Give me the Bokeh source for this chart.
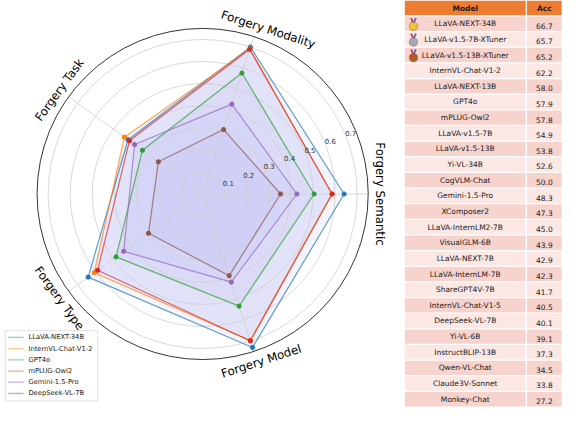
import numpy as np
from bokeh.plotting import figure
from bokeh.models import Range1d
from bokeh.core.properties import value
from bokeh.embed import file_html
from bokeh.resources import INLINE

# ---------------- data ----------------
categories = ["Forgery Semantic", "Forgery Modality", "Forgery Task", "Forgery Type", "Forgery Model"]
series_names = ["LLaVA-NEXT-34B", "InternVL-Chat-V1-2", "GPT4o", "mPLUG-Owl2", "Gemini-1.5-Pro", "DeepSeek-VL-7B"]
llava_next_34b = [0.641, 0.700, 0.418, 0.641, 0.731]
internvl_chat_v12 = [0.585, 0.692, 0.438, 0.607, 0.697]
gpt4o = [0.505, 0.576, 0.337, 0.485, 0.534]
mplug_owl2 = [0.587, 0.689, 0.410, 0.588, 0.700]
gemini_15_pro = [0.427, 0.428, 0.381, 0.442, 0.420]
deepseek_vl_7b = [0.353, 0.307, 0.248, 0.303, 0.389]
series_values = [llava_next_34b, internvl_chat_v12, gpt4o, mplug_owl2, gemini_15_pro, deepseek_vl_7b]
radial_ticks = [0.1, 0.2, 0.3, 0.4, 0.5, 0.6, 0.7]
radial_max = 0.75

table_models = ["LLaVA-NEXT-34B", "LLaVA-v1.5-7B-XTuner", "LLaVA-v1.5-13B-XTuner", "InternVL-Chat-V1-2",
                "LLaVA-NEXT-13B", "GPT4o", "mPLUG-Owl2", "LLaVA-v1.5-7B", "LLaVA-v1.5-13B", "Yi-VL-34B",
                "CogVLM-Chat", "Gemini-1.5-Pro", "XComposer2", "LLaVA-InternLM2-7B", "VisualGLM-6B",
                "LLaVA-NEXT-7B", "LLaVA-InternLM-7B", "ShareGPT4V-7B", "InternVL-Chat-V1-5", "DeepSeek-VL-7B",
                "Yi-VL-6B", "InstructBLIP-13B", "Qwen-VL-Chat", "Claude3V-Sonnet", "Monkey-Chat"]
table_acc = [66.7, 65.7, 65.2, 62.2, 58.0, 57.9, 57.8, 54.9, 53.8, 52.6, 50.0, 48.3, 47.3, 45.0, 43.9,
             42.9, 42.3, 41.7, 40.5, 40.1, 39.1, 37.3, 34.5, 33.8, 27.2]
table_headers = ["Model", "Acc"]

# ---------------- style / layout ----------------
W, H = 566, 412
S = H / 428.0            # px per reference px
FONT = "DejaVu Sans"
def fs(px):
    return value(f"{px * S:.2f}px")

colors = ["#1f77b4", "#ff7f0e", "#2ca02c", "#d62728", "#9467bd", "#8c564b"]
cx, cy, R = 207.0, 201.0, 172.0
k = R / radial_max
n = len(categories)
angles = np.deg2rad(np.arange(n) * 360.0 / n)

xr = W / S
p = figure(width=W, height=H, output_backend="svg", toolbar_location=None,
           x_range=Range1d((582 - xr) / 2, 582 - (582 - xr) / 2), y_range=Range1d(428, 0),
           min_border=0)
p.axis.visible = False
p.grid.visible = False
p.outline_line_color = None
p.background_fill_color = "white"

def polar(r, th):
    return cx + r * k * np.cos(th), cy - r * k * np.sin(th)

# fills
for vals in series_values:
    xs, ys = polar(np.array(vals), angles)
    p.patch(list(xs), list(ys), fill_color="#b4b4f0", fill_alpha=0.15, line_color=None)

# grid circles
for t in radial_ticks:
    p.ellipse(x=cx, y=cy, width=2 * t * k, height=2 * t * k, fill_color=None,
              line_color="#cfcfcf", line_width=0.8)
# spokes
ex, ey = polar(np.full(n, radial_max), angles)
p.segment(x0=[cx] * n, y0=[cy] * n, x1=list(ex), y1=list(ey), line_color="#cfcfcf", line_width=0.8)
# outer circle
p.ellipse(x=cx, y=cy, width=2 * R, height=2 * R, fill_color=None, line_color="#333333", line_width=1.0)

# series lines + markers
for vals, c in zip(series_values, colors):
    xs, ys = polar(np.array(vals), angles)
    p.line(list(xs) + [xs[0]], list(ys) + [ys[0]], line_color=c, line_alpha=0.7, line_width=1.2)
    p.scatter(list(xs), list(ys), size=4.2, fill_color=c, line_color=c)

# radial tick labels
la = np.deg2rad(22.5)
tx = [cx + (t * k + 6) * np.cos(la) for t in radial_ticks]
ty = [cy - (t * k + 6) * np.sin(la) for t in radial_ticks]
p.text(tx, ty, text=[f"{t:.1f}" for t in radial_ticks], text_font=value(FONT), text_font_size=fs(7.2),
       text_color="#333333", text_align="center", text_baseline="middle")

# category labels
label_r = 184.0
label_tweak = [0.0, -3.7, 0.0, 0.0, 1.3]
rot = [0, -18, 54, -54, 18]
lx, ly = [], []
for a, tw in zip(np.arange(n) * 360.0 / n, label_tweak):
    th = np.deg2rad(a + tw)
    lx.append(cx + label_r * np.cos(th))
    ly.append(cy - label_r * np.sin(th))
lab_rot = [(-90 if i == 0 else rot[i]) for i in range(n)]
p.text(lx, ly, text=categories, angle=list(np.deg2rad(lab_rot)), text_font=value(FONT),
       text_font_size=fs(12.2), text_color="black", text_align="center", text_baseline="middle")

# legend (manual)
p.quad(left=2, right=98, top=343, bottom=416, fill_color="white", fill_alpha=0.85,
       line_color="#d8d8d8", line_width=0.8)
leg_y = [350 + i * 11.65 for i in range(len(series_names))]
p.segment(x0=[5] * 6, y0=leg_y, x1=[21] * 6, y1=leg_y, line_color=colors, line_alpha=0.45, line_width=1.3)
p.text([26] * 6, leg_y, text=series_names, text_font=value(FONT), text_font_size=fs(7.0),
       text_color="#222222", text_align="left", text_baseline="middle")

# ---------------- table ----------------
tl, tm, tr = 417.0, 542.6, 580.0
p.quad(left=[tl, tm + 1.3], right=[tm, tr], top=[0, 0], bottom=[15.4, 15.4], fill_color="#ed7d31",
       line_color=None)
p.text([(tl + tm) / 2, (tm + 1.3 + tr) / 2], [7.8, 7.8], text=table_headers, text_font=value(FONT),
       text_font_size=fs(7.8), text_font_style="bold", text_color="#1a1a1a", text_align="center",
       text_baseline="middle")
pitch = 16.25
top0 = 16.7
nrow = len(table_models)
tops = [top0 + i * pitch for i in range(nrow)]
bots = [t + pitch - 1.3 for t in tops]
rc = ["#f7d3cd" if i % 2 == 0 else "#fbe8e5" for i in range(nrow)]
p.quad(left=[tl] * nrow, right=[tm] * nrow, top=tops, bottom=bots, fill_color=rc, line_color=None)
p.quad(left=[tm + 1.3] * nrow, right=[tr] * nrow, top=tops, bottom=bots, fill_color=rc, line_color=None)
mids = [(a + b) / 2 for a, b in zip(tops, bots)]
p.text([(tl + tm) / 2] * nrow, mids, text=table_models, text_font=value(FONT), text_font_size=fs(7.8),
       text_color="#1a1a1a", text_align="center", text_baseline="middle")
p.text([(tm + 1.3 + tr) / 2] * nrow, [m + 2 for m in mids], text=[f"{a:.1f}" for a in table_acc],
       text_font=value(FONT), text_font_size=fs(7.8), text_color="#1a1a1a", text_align="center",
       text_baseline="middle")

# medals for top three rows
medal_colors = ["#f2c03a", "#a9a9a9", "#b9581f"]
mx = 426.0
for i, mc in enumerate(medal_colors):
    t = tops[i]
    p.segment(x0=[mx - 2.5, mx + 2.5], y0=[t + 1.5, t + 1.5], x1=[mx, mx], y1=[t + 7, t + 7],
              line_color=["#d93a3a", "#3a6fd9"], line_width=1.8)
    p.scatter([mx], [t + 10.2], size=8.5 * S, fill_color=mc, line_color="#8a6a20" if i == 0 else "#666666",
              line_width=0.5)

open("out.html", "w").write(file_html(p, INLINE))
